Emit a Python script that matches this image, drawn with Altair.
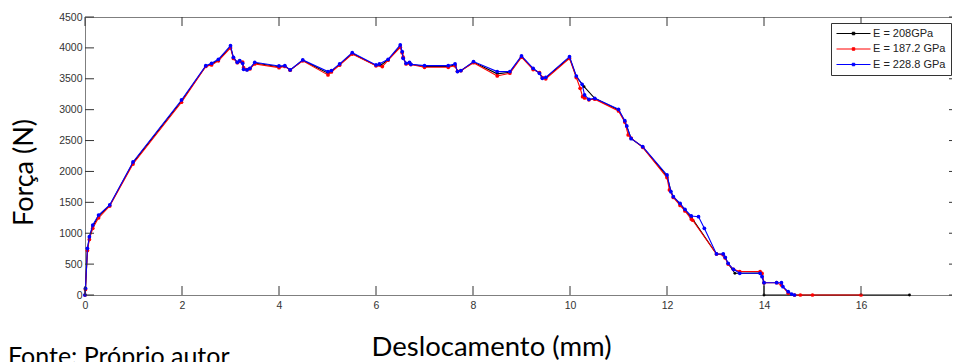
import altair as alt
import pandas as pd

series_names = ["E = 208GPa", "E = 187.2 GPa", "E = 228.8 GPa"]
series_colors = ["#000000", "#ff0000", "#0000ff"]

# E = 208 GPa (black)
x_208 = [0, 0.01, 0.05, 0.09, 0.16, 0.28, 0.51, 0.99, 1.99, 2.49, 2.61, 2.75, 3.0, 3.06, 3.14, 3.19,
         3.25, 3.27, 3.34, 3.4, 3.5, 4.0, 4.12, 4.23, 4.49, 5.01, 5.08, 5.25, 5.51, 6.0, 6.1, 6.25,
         6.5, 6.54, 6.56, 6.62, 6.69, 6.72, 7.0, 7.49, 7.63, 7.68, 7.75, 8.01, 8.5, 8.76, 9.0, 9.24,
         9.37, 9.43, 9.5, 9.99, 10.13, 10.29, 10.51, 11.0, 11.13, 11.17, 11.26, 11.5, 12.0, 12.08,
         12.13, 12.27, 12.37, 12.5, 13.02, 13.16, 13.2, 13.26, 13.4, 13.92, 13.96, 14.0, 14.0, 17.0]
y_208 = [0, 100, 740, 930, 1110, 1280, 1450, 2140, 3140, 3705, 3740, 3800, 4020, 3840, 3765, 3790,
         3760, 3660, 3645, 3665, 3755, 3695, 3705, 3640, 3800, 3590, 3620, 3730, 3910, 3715, 3720, 3808,
         4030, 3930, 3840, 3745, 3760, 3735, 3700, 3700, 3725, 3618, 3630, 3770, 3580, 3605, 3860, 3660,
         3595, 3515, 3512, 3845, 3535, 3372, 3184, 2995, 2810, 2730, 2535, 2395, 1925, 1680,
         1590, 1470, 1375, 1260, 664, 660, 605, 510, 351, 355, 300, 199, 0, 0]

# E = 187.2 GPa (red)
x_187 = [0, 0.01, 0.05, 0.09, 0.16, 0.28, 0.51, 0.99, 1.99, 2.49, 2.61, 2.75, 3.0, 3.06, 3.14, 3.19,
         3.25, 3.27, 3.34, 3.4, 3.5, 4.0, 4.12, 4.23, 4.49, 5.01, 5.08, 5.25, 5.51, 6.0, 6.13, 6.25,
         6.5, 6.54, 6.56, 6.62, 6.69, 6.72, 7.0, 7.49, 7.63, 7.68, 7.75, 8.01, 8.5, 8.76, 9.0, 9.24,
         9.37, 9.43, 9.5, 9.99, 10.13, 10.21, 10.26, 10.3, 10.39, 10.51, 11.0, 11.13, 11.2, 11.26,
         11.5, 12.0, 12.05, 12.13, 12.27, 12.37, 12.5, 12.53, 13.02, 13.16, 13.2, 13.26, 13.37, 13.5,
         13.92, 13.96, 14.0, 14.26, 14.36, 14.5, 14.63, 14.75, 15.0, 16.0]
y_187 = [0, 90, 720, 900, 1080, 1250, 1440, 2120, 3120, 3700, 3724, 3790, 4000, 3830, 3760, 3780,
         3770, 3680, 3650, 3660, 3740, 3680, 3700, 3640, 3790, 3562, 3610, 3720, 3900, 3710, 3697, 3800,
         4010, 3920, 3850, 3740, 3750, 3730, 3686, 3686, 3710, 3620, 3630, 3760, 3546, 3590, 3850, 3650,
         3600, 3520, 3500, 3830, 3520, 3346, 3211, 3190, 3160, 3170, 2980, 2800, 2590, 2540,
         2390, 1900, 1700, 1580, 1450, 1360, 1230, 1210, 664, 650, 600, 500, 416, 380,
         380, 350, 199, 199, 160, 30, 0, 0, 0, 0]

# E = 228.8 GPa (blue)
x_228 = [0, 0.01, 0.05, 0.09, 0.16, 0.28, 0.51, 0.99, 1.99, 2.49, 2.61, 2.75, 3.0, 3.06, 3.14, 3.19,
         3.25, 3.27, 3.34, 3.4, 3.5, 4.0, 4.12, 4.23, 4.49, 5.01, 5.08, 5.25, 5.51, 6.0, 6.07, 6.25,
         6.5, 6.54, 6.56, 6.62, 6.69, 6.72, 7.0, 7.49, 7.63, 7.68, 7.75, 8.01, 8.5, 8.76, 9.0, 9.24,
         9.37, 9.43, 9.5, 9.99, 10.13, 10.25, 10.3, 10.39, 10.51, 11.0, 11.13, 11.17, 11.26, 11.5,
         12.0, 12.08, 12.13, 12.27, 12.37, 12.5, 12.65, 12.77, 13.02, 13.16, 13.2, 13.26, 13.37, 13.5,
         13.92, 13.96, 14.0, 14.26, 14.36, 14.39, 14.5, 14.57, 14.63]
y_228 = [0, 108, 756, 944, 1133, 1295, 1457, 2153, 3157, 3712, 3751, 3815, 4036, 3848, 3767, 3794,
         3751, 3654, 3643, 3670, 3767, 3708, 3712, 3643, 3805, 3616, 3632, 3740, 3923, 3724, 3740, 3816,
         4048, 3940, 3832, 3751, 3767, 3735, 3713, 3713, 3740, 3616, 3632, 3778, 3616, 3616, 3870, 3670,
         3589, 3508, 3524, 3858, 3545, 3411, 3238, 3168, 3184, 3006, 2822, 2736, 2531, 2401,
         1943, 1673, 1592, 1484, 1387, 1279, 1268, 1080, 664, 664, 610, 513, 416, 351,
         351, 296, 199, 199, 199, 134, 53, 16, 0]

x_ticks = [0, 2, 4, 6, 8, 10, 12, 14, 16, 18]
y_ticks = [0, 500, 1000, 1500, 2000, 2500, 3000, 3500, 4000, 4500]
x_title = "Deslocamento (mm)"
y_title = "Força (N)"
source_note = "Fonte: Próprio autor"

rows = []
for name, xs_, ys_ in zip(series_names, [x_208, x_187, x_228], [y_208, y_187, y_228]):
    for i, (a, b) in enumerate(zip(xs_, ys_)):
        rows.append({"serie": name, "x": a, "y": b, "i": i})
df = pd.DataFrame(rows)

W, H = 873, 278
xscale = alt.Scale(domain=[0, 18], nice=False, zero=False)
yscale = alt.Scale(domain=[0, 4500], nice=False, zero=False)
cscale = alt.Scale(domain=series_names, range=series_colors)

lab_font = "Liberation Sans"
x_axis = alt.Axis(title=x_title, values=x_ticks, format="d", domain=False, ticks=False, grid=False,
                  labelPadding=5, labelFont=lab_font, labelFontSize=10.5, labelColor="#333333",
                  labelFlush=False, labelOverlap=False,
                  titleFont="Lato", titleFontSize=27.5, titleFontWeight="normal", titleColor="#000000",
                  titleX=406, titleY=60, titleBaseline="alphabetic", titleAlign="center")
y_axis = alt.Axis(title=y_title, values=y_ticks, format="d", domain=False, ticks=False, grid=False,
                  labelPadding=3, labelFont=lab_font, labelFontSize=10.5, labelColor="#333333",
                  labelFlush=False, labelOverlap=False,
                  titleFont="Lato", titleFontSize=27, titleFontWeight="normal", titleColor="#000000",
                  titleAngle=270, titleX=-53, titleY=155, titleBaseline="alphabetic", titleAlign="center")

legend = alt.Legend(title=None, orient="none", legendX=746, legendY=6, fillColor="white",
                    strokeColor="#333333", padding=5, cornerRadius=0,
                    symbolType="M-3.4,0H3.4M-0.25,-0.25H0.25V0.25H-0.25Z", symbolSize=100,
                    symbolStrokeWidth=1, symbolOffset=12, labelOffset=14,
                    labelFont=lab_font, labelFontSize=11, labelColor="#222222", rowPadding=3.5)

layers = []
for name, sz in zip(series_names, [8, 14, 14]):
    base = alt.Chart(df).transform_filter(alt.datum.serie == name)
    line = base.mark_line(strokeWidth=1.1).encode(
        x=alt.X("x:Q", scale=xscale, axis=x_axis),
        y=alt.Y("y:Q", scale=yscale, axis=y_axis),
        order=alt.Order("i:Q"),
        color=alt.Color("serie:N", scale=cscale, legend=legend),
    )
    pts = base.mark_point(filled=True, size=sz, opacity=1).encode(
        x=alt.X("x:Q", scale=xscale, axis=x_axis),
        y=alt.Y("y:Q", scale=yscale, axis=y_axis),
        color=alt.Color("serie:N", scale=cscale, legend=None),
    )
    layers += [line, pts]

xt = pd.DataFrame({"v": x_ticks})
yt = pd.DataFrame({"v": y_ticks})
tick_col = "#333333"
tb = alt.Chart(xt).mark_rule(color=tick_col, strokeWidth=1).encode(
    x=alt.X("v:Q", scale=xscale, axis=x_axis), y=alt.value(H), y2=alt.value(H - 9))
tt = alt.Chart(xt).mark_rule(color=tick_col, strokeWidth=1).encode(
    x=alt.X("v:Q", scale=xscale, axis=x_axis), y=alt.value(0), y2=alt.value(9))
tl = alt.Chart(yt).mark_rule(color=tick_col, strokeWidth=1).encode(
    y=alt.Y("v:Q", scale=yscale, axis=y_axis), x=alt.value(0), x2=alt.value(9))
tr = alt.Chart(yt).mark_rule(color=tick_col, strokeWidth=1).encode(
    y=alt.Y("v:Q", scale=yscale, axis=y_axis), x=alt.value(W), x2=alt.value(W - 9))

note = alt.Chart(pd.DataFrame({"t": [source_note]})).mark_text(
    align="left", baseline="alphabetic", font="Lato", fontSize=25, color="#000000").encode(
    text="t:N", x=alt.value(-77), y=alt.value(348))

chart = alt.layer(*layers, tb, tt, tl, tr, note).properties(
    width=W, height=H,
    autosize=alt.AutoSizeParams(type="none"),
    padding={"left": 77, "top": 9, "right": -6, "bottom": 67},
).configure_view(stroke="#7f7f7f", strokeWidth=1)

chart.save("out.html", embed_options={"renderer": "svg", "actions": False})
